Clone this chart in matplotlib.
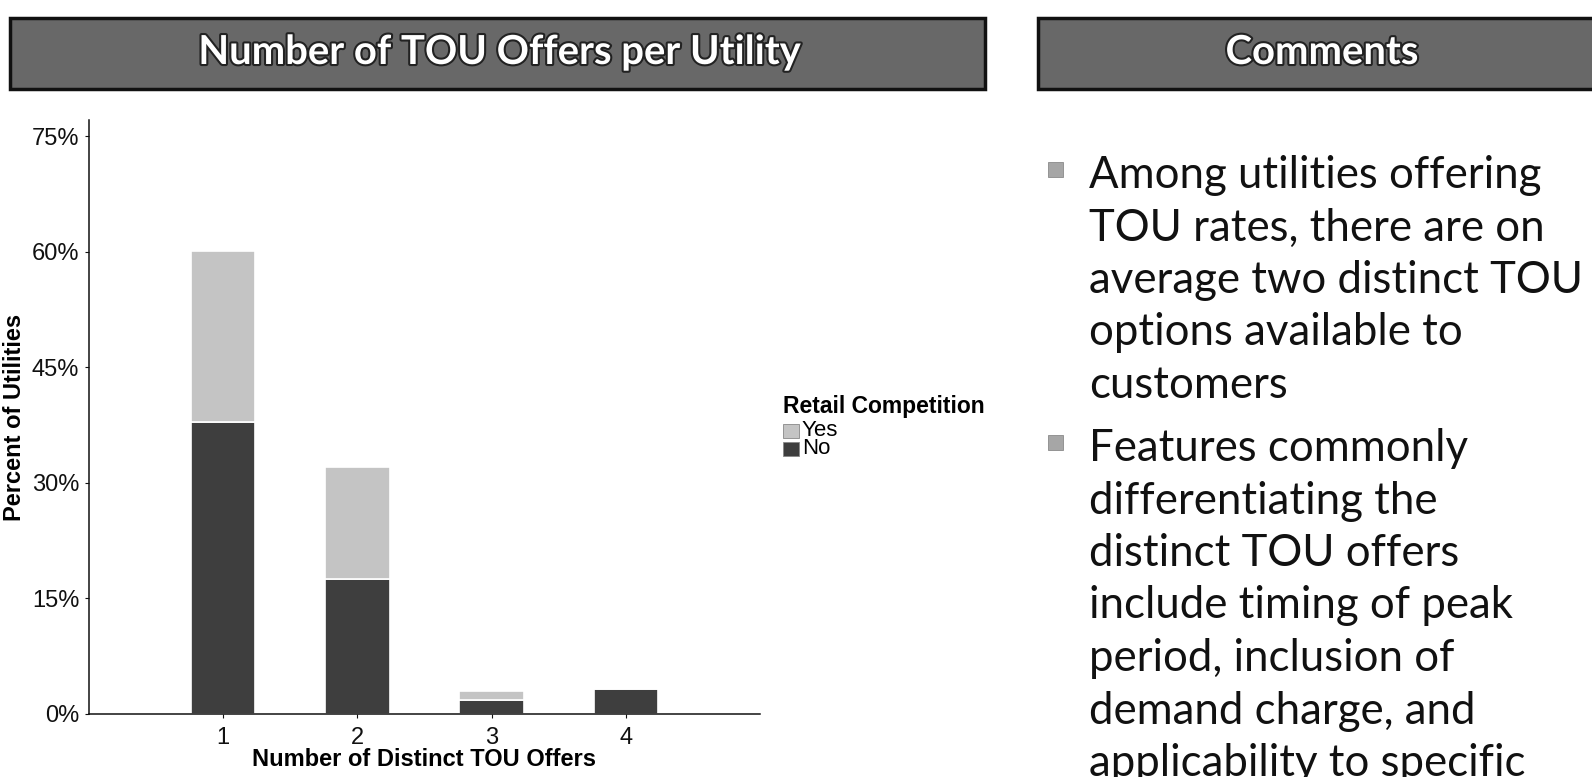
import matplotlib
matplotlib.use("Agg")
import matplotlib.pyplot as plt
import matplotlib.patheffects as pe
from matplotlib.patches import Rectangle

# data
offers = [1, 2, 3, 4]
tick_labels = ["1", "2", "3", "4"]
no_comp = [37.9, 17.5, 1.8, 3.2]     # Retail Competition = No
yes_comp = [22.2, 14.6, 1.2, 0.0]    # Retail Competition = Yes
y_ticks = [0, 15, 30, 45, 60, 75]
series = ["Yes", "No"]
series_colors = {"Yes": "#c4c4c4", "No": "#3e3e3e"}

chart_title = "Number of TOU Offers per Utility"
side_title = "Comments"
bullets = [
    ["Among utilities offering",
     "TOU rates, there are on",
     "average two distinct TOU",
     "options available to",
     "customers"],
    ["Features commonly",
     "differentiating the",
     "distinct TOU offers",
     "include timing of peak",
     "period, inclusion of",
     "demand charge, and",
     "applicability to specific"],
]

W, H = 1592, 777
fig = plt.figure(figsize=(W / 100, H / 100), dpi=100)
fig.patch.set_facecolor("white")

def fx(px):
    return px / W

def fy(py):
    return 1 - py / H

# header bars
for x0, x1, label, cx in [(10, 985, chart_title, 500), (1038, 1605, side_title, 1322)]:
    fig.patches.append(Rectangle((fx(x0), fy(89)), fx(x1 - x0), (89 - 18) / H,
                                 transform=fig.transFigure, facecolor="#686868",
                                 edgecolor="#111111", lw=2.5, zorder=0))
    t = fig.text(fx(cx), fy(64), label, ha="center", va="baseline", color="white",
                 fontsize=28.8, fontweight="bold", family="Lato")
    t.set_path_effects([pe.withStroke(linewidth=3, foreground="#222222")])

# chart
ax = fig.add_axes([fx(89), fy(714), fx(760 - 89), (714 - 120) / H])
ax.bar(offers, no_comp, width=0.48, color=series_colors["No"],
       edgecolor="white", linewidth=1.2, zorder=2)
ax.bar(offers, yes_comp, width=0.48, bottom=no_comp,
       color=series_colors["Yes"], edgecolor="white", linewidth=1.2, zorder=2)

ax.set_xlim(0, 5)
ax.set_ylim(0, 77.1)
ax.set_xticks(offers)
ax.set_xticklabels(tick_labels)
ax.set_yticks(y_ticks)
ax.set_yticklabels([f"{v}%" for v in y_ticks])
for s in ["top", "right"]:
    ax.spines[s].set_visible(False)
for s in ["left", "bottom"]:
    ax.spines[s].set_linewidth(1.1)
    ax.spines[s].set_color("#111111")
ax.tick_params(axis="both", labelsize=17, length=3, width=0.8, colors="#111111",
               labelcolor="#111111", labelfontfamily="Liberation Sans")
ax.tick_params(axis="x", pad=6)
ax.tick_params(axis="y", pad=4)

ax.set_xlabel("Number of Distinct TOU Offers", fontsize=17, fontweight="bold",
              family="Liberation Sans")
ax.xaxis.set_label_coords(0.5, (714 - 760) / 594)
ax.xaxis.label.set_va("center")
ax.set_ylabel("Percent of Utilities", fontsize=17, fontweight="bold",
              family="Liberation Sans")
ax.yaxis.set_label_coords((15 - 89) / 671, 0.5)
ax.yaxis.label.set_va("center")

# legend drawn by hand to keep the tight spacing of the original
fig.text(fx(783), fy(407), "Retail Competition", ha="left", va="center",
         fontsize=16.5, fontweight="bold", family="Liberation Sans")
for i, name in enumerate(series):
    yc = 431 + i * 18
    fig.patches.append(Rectangle((fx(783), fy(yc + 7)), fx(16), 14 / H,
                                 transform=fig.transFigure,
                                 facecolor=series_colors[name], edgecolor="#888888", lw=0.6))
    fig.text(fx(802), fy(yc), name, ha="left", va="center", fontsize=16,
             family="Liberation Sans")

# comments column
base = 188
for para in bullets:
    fig.patches.append(Rectangle((fx(1048), fy(base - 11)), fx(15), 15 / H,
                                 transform=fig.transFigure, facecolor="#a6a6a6",
                                 edgecolor="#8a8a8a", lw=0.6))
    for line in para:
        fig.text(fx(1089), fy(base), line, ha="left", va="baseline",
                 fontsize=31.5, family="Lato", color="#111111")
        base += 52.5
    base += 10.5

fig.savefig("out.png", dpi=100)
